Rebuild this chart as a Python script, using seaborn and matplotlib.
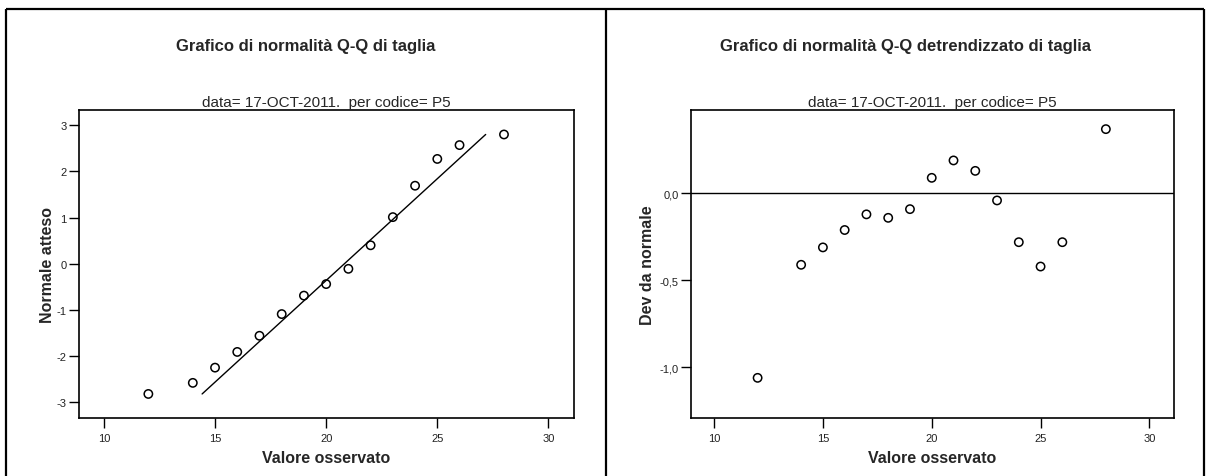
import matplotlib
matplotlib.use("Agg")
import matplotlib.pyplot as plt
from matplotlib.lines import Line2D
from matplotlib.ticker import FixedLocator, FuncFormatter
import seaborn as sns
import pandas as pd

# Observed values of "taglia" and their normal scores
observed = [12, 14, 15, 16, 17, 18, 19, 20, 21, 22, 23, 24, 25, 26, 28]
expected_normal = [-2.82, -2.58, -2.25, -1.91, -1.56, -1.09, -0.69, -0.44,
                   -0.11, 0.40, 1.01, 1.69, 2.27, 2.57, 2.80]
deviation = [-1.06, -0.41, -0.31, -0.21, -0.12, -0.14, -0.09, 0.09,
             0.19, 0.13, -0.04, -0.28, -0.42, -0.28, 0.37]

# Reference normal line parameters
fit_mean = 20.82
fit_sd = 2.27

x_ticks = [10, 15, 20, 25, 30]
qq_yticks = [-3, -2, -1, 0, 1, 2, 3]
dev_yticks = [-1.0, -0.5, 0.0]

main_titles = ["Grafico di normalità Q-Q di taglia",
               "Grafico di normalità Q-Q detrendizzato di taglia"]
subtitle = "data= 17-OCT-2011.  per codice= P5"
x_label = "Valore osservato"
y_labels = ["Normale atteso", "Dev da normale"]

df = pd.DataFrame({"observed": observed,
                   "expected": expected_normal,
                   "deviation": deviation})
ymin, ymax = min(expected_normal), max(expected_normal)
line_df = pd.DataFrame({"x": [fit_mean + fit_sd * ymin, fit_mean + fit_sd * ymax],
                        "y": [ymin, ymax]})

sns.set_theme(style="white")
plt.rcParams["font.family"] = ["Liberation Sans", "DejaVu Sans"]
plt.rcParams["axes.unicode_minus"] = False

W, H = 1206, 477
fig = plt.figure(figsize=(W / 100, H / 100), dpi=100)
fig.patch.set_facecolor("white")


def px_axes(x0, x1, y0, y1):
    return fig.add_axes([x0 / W, 1 - y1 / H, (x1 - x0) / W, (y1 - y0) / H])


ax1 = px_axes(79, 574, 111, 418.5)
ax2 = px_axes(691, 1174, 111, 418.5)

marker_kw = dict(marker="o", s=36, facecolor="none", edgecolor="black",
                 linewidth=1.1, legend=False, zorder=3)

sns.scatterplot(data=df, x="observed", y="expected", ax=ax1, **marker_kw)
sns.lineplot(data=line_df, x="x", y="y", ax=ax1, color="black",
             linewidth=1.0, zorder=2)

sns.scatterplot(data=df, x="observed", y="deviation", ax=ax2, **marker_kw)
ax2.axhline(0, color="black", linewidth=1.0, zorder=2)

ax1.set_xlim(8.88, 31.15)
ax1.set_ylim(-3.33, 3.33)
ax2.set_xlim(8.94, 31.13)
ax2.set_ylim(-1.288, 0.48)

ax1.yaxis.set_major_locator(FixedLocator(qq_yticks))
ax2.yaxis.set_major_locator(FixedLocator(dev_yticks))
ax2.yaxis.set_major_formatter(FuncFormatter(lambda v, p: f"{v:.1f}".replace(".", ",")))

for ax, ylab, ypad in zip((ax1, ax2), y_labels, (1, 3)):
    ax.xaxis.set_major_locator(FixedLocator(x_ticks))
    ax.set_facecolor("white")
    for sp in ax.spines.values():
        sp.set_visible(True)
        sp.set_color("black")
        sp.set_linewidth(1.2)
    ax.tick_params(axis="both", which="major", direction="out", length=7,
                   width=1.0, color="black", labelsize=8, labelcolor="#222222",
                   left=True, bottom=True)
    ax.tick_params(axis="y", pad=2)
    ax.tick_params(axis="x", pad=4)
    ax.set_xlabel(x_label, fontsize=11.5, fontweight="bold", labelpad=5)
    ax.set_ylabel(ylab, fontsize=11.5, fontweight="bold", labelpad=ypad)
    ax.set_title(subtitle, fontsize=11, pad=3)

# Panel headings
fig.text(306 / W, 1 - 47 / H, main_titles[0], ha="center", va="center",
         fontsize=12, fontweight="bold")
fig.text(905 / W, 1 - 47 / H, main_titles[1], ha="center", va="center",
         fontsize=12, fontweight="bold")

# Panel frames
frame_kw = dict(color="black", linewidth=1.6, transform=fig.transFigure,
                solid_capstyle="butt")
for xs, ys in [([6, 6], [10, H]), ([605.5, 605.5], [10, H]),
               ([1203.5, 1203.5], [10, H]), ([6, 1203.5], [10, 10])]:
    fig.add_artist(Line2D([x / W for x in xs], [1 - y / H for y in ys], **frame_kw))

fig.savefig("out.png", dpi=100, facecolor="white")
